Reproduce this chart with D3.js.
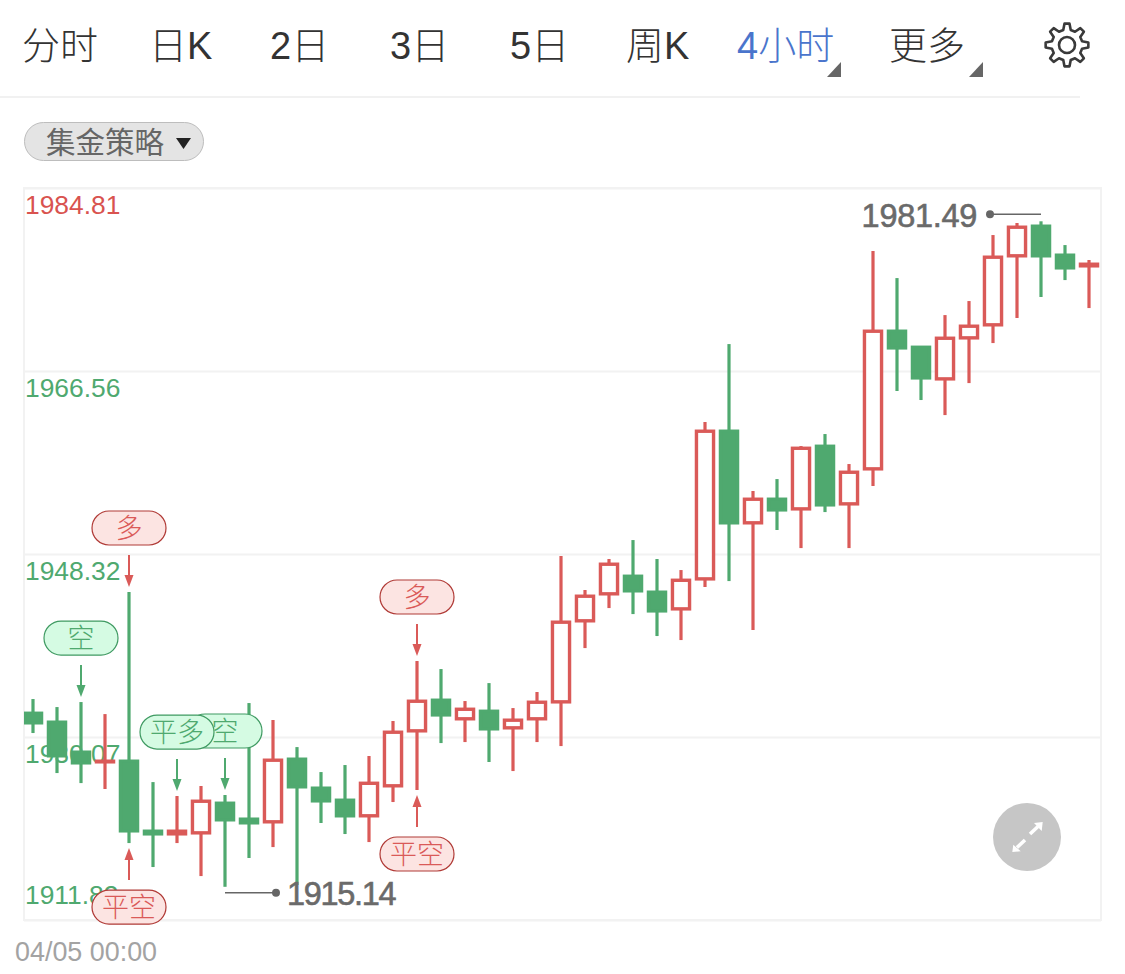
<!DOCTYPE html>
<html><head><meta charset="utf-8">
<script src="https://cdn.jsdelivr.net/npm/d3@7/dist/d3.min.js"></script>
<style>html,body{margin:0;padding:0;background:#fff;overflow:hidden}
svg{display:block}text{font-family:"Liberation Sans","Noto Sans CJK SC",sans-serif}</style>
</head><body><svg id="c" width="1125" height="974"></svg>
<script>
const tabs = ["分时","日K","2日","3日","5日","周K","4小时","更多"];
const tabX = [22,149,270,390,510,626,737,889];
const activeTab = "4小时";
const strategy = "集金策略";
const priceTicks = [1984.81,1966.56,1948.32,1930.07,1911.83];
const firstDate = "04/05 00:00";
const opens  = [1932.56,1931.67,1928.68,1927.48,1927.78,1920.80,1920.30,1920.40,1923.59,1922.00,1921.50,1927.98,1925.09,1923.89,1922.10,1925.09,1930.57,1933.86,1931.77,1932.76,1930.87,1931.77,1933.46,1941.54,1944.23,1946.22,1944.63,1942.73,1945.72,1960.68,1951.31,1953.90,1952.70,1959.18,1953.20,1956.69,1970.65,1969.05,1965.66,1969.75,1971.05,1977.93,1981.12,1978.23,1976.93];
const highs  = [1933.86,1933.06,1933.56,1932.36,1944.53,1925.58,1924.19,1925.19,1924.29,1933.46,1931.77,1929.07,1926.58,1927.28,1928.18,1931.67,1937.65,1936.85,1933.66,1935.45,1932.96,1934.56,1948.12,1944.73,1947.82,1949.71,1947.82,1946.72,1961.48,1969.25,1954.60,1955.79,1959.08,1960.28,1957.29,1978.53,1975.83,1969.05,1972.14,1973.54,1980.12,1981.32,1981.49,1979.12,1977.63];
const lows   = [1930.47,1926.48,1925.48,1924.89,1919.50,1917.11,1919.50,1916.21,1915.14,1918.01,1919.10,1915.32,1921.50,1920.40,1919.60,1923.59,1924.79,1929.47,1929.57,1927.58,1926.68,1929.57,1929.17,1938.94,1942.93,1942.33,1940.14,1939.74,1945.03,1945.62,1940.74,1950.71,1948.91,1952.50,1948.91,1955.10,1964.57,1963.67,1962.17,1965.36,1969.35,1971.85,1973.94,1975.63,1972.84];
const closes = [1931.37,1928.08,1927.38,1927.78,1920.60,1920.30,1920.80,1923.79,1921.70,1921.40,1927.88,1924.99,1923.59,1922.10,1925.58,1930.67,1933.76,1932.16,1932.96,1930.77,1931.87,1933.66,1941.64,1944.23,1947.42,1944.53,1942.53,1945.82,1960.68,1951.31,1953.90,1952.60,1958.98,1953.10,1956.59,1970.65,1968.75,1965.76,1969.95,1971.15,1978.03,1981.02,1977.93,1976.73,1977.33];
const signalLabels = ["空","平多","空","多","平空","多","平空"];
const signalIndex  = [2,6,8,4,4,16,16];
const signalSide   = ["top","top","top","top","bottom","top","bottom"];
const signalTone   = ["green","green","green","red","red","red","red"];

const RED="#da5a58", GREEN="#4fa96f";
const tone={red:{c:RED,fill:"#fce4e2",edge:"#b03a36"},green:{c:GREEN,fill:"#d5fbe3",edge:"#3f9a62"}};
const svg=d3.select("#c");
const L=24,R=1101,T=188,B=920;
const idx=opens.map((_,i)=>i);
const x=d3.scaleBand().domain(idx).range([21,21+24*45]);
const y=d3.scaleLinear().domain([priceTicks[4],priceTicks[0]]).range([B,T]);
const cx=i=>x(i)+x.bandwidth()/2;

// header
svg.selectAll(".tab").data(tabs).join("text").attr("class","tab")
 .attr("x",(d,i)=>tabX[i]).attr("y",59).attr("font-size",38).attr("font-weight",300)
 .attr("fill",d=>d===activeTab?"#4a75cc":"#333").text(d=>d);
svg.selectAll(".tri").data([[841,62],[983,62]]).join("path").attr("class","tri")
 .attr("d",d=>`M${d[0]} ${d[1]}L${d[0]} ${d[1]+15}L${d[0]-14} ${d[1]+15}Z`).attr("fill","#666");
// gear
const gear=svg.append("g").attr("transform","translate(1067,45)");
const gp=[];const teeth=8;
for(let k=0;k<teeth;k++){
  const a=k*2*Math.PI/teeth-Math.PI/2;
  const st=Math.PI/teeth;
  [[-0.62,15.5],[-0.3,21.5],[0.3,21.5],[0.62,15.5]].forEach(p=>{
    const an=a+p[0]*st; gp.push([p[1]*Math.cos(an),p[1]*Math.sin(an)]);
  });
}
gear.append("path").attr("d",d3.line().curve(d3.curveLinearClosed)(gp)).attr("fill","none")
 .attr("stroke","#3a3a3a").attr("stroke-width",2.6).attr("stroke-linejoin","round");
gear.append("circle").attr("r",8).attr("fill","none").attr("stroke","#3a3a3a").attr("stroke-width",2.6);
svg.append("rect").attr("x",0).attr("y",96).attr("width",1080).attr("height",2).attr("fill","#f1f1f1");
svg.append("rect").attr("x",24.5).attr("y",122.5).attr("width",179).attr("height",38).attr("rx",19)
 .attr("fill","#e4e4e4").attr("stroke","#bdbdbd");
svg.append("text").attr("x",46).attr("y",153).attr("font-size",29.5).attr("fill","#666").text(strategy);
svg.append("path").attr("d","M176 138H191L183.5 149Z").attr("fill","#222");

// frame + grid
svg.append("rect").attr("x",L).attr("y",T).attr("width",R-L).attr("height",B-T)
 .attr("fill","none").attr("stroke","#f2f2f2").attr("stroke-width",2);
const ax=svg.append("g").attr("transform",`translate(${L},0)`)
 .call(d3.axisRight(y).tickValues(priceTicks).tickSize(R-L).tickFormat(d3.format(".2f")));
ax.select(".domain").remove();
ax.selectAll("line").attr("stroke","#f2f2f2").attr("stroke-width",2);
ax.selectAll("text").attr("x",1).attr("text-anchor","start").attr("dy",0)
 .attr("y",(d,i)=>i===4?-17:25).attr("font-size",26.4)
 .attr("font-family",'"Liberation Sans",sans-serif')
 .attr("fill",(d,i)=>i===0?"#d9534f":GREEN);

// candles
svg.append("clipPath").attr("id","plot").append("rect").attr("x",L).attr("y",T).attr("width",R-L).attr("height",B-T);
const W=20.5,SW=3.4;
const g=svg.append("g").attr("clip-path","url(#plot)");
const candle=g.selectAll("g").data(idx).join("g");
candle.append("line").attr("x1",cx).attr("x2",cx).attr("y1",i=>y(highs[i])).attr("y2",i=>y(lows[i]))
 .attr("stroke",i=>closes[i]>=opens[i]?RED:GREEN).attr("stroke-width",3.2);
candle.append("rect")
 .attr("x",i=>cx(i)-W/2+SW/2).attr("width",W-SW)
 .attr("y",i=>y(Math.max(opens[i],closes[i]))+SW/2-0.5)
 .attr("height",i=>Math.max(0.5,Math.abs(y(opens[i])-y(closes[i]))-SW+1))
 .attr("fill",i=>closes[i]>=opens[i]?"#fff":GREEN)
 .attr("stroke",i=>closes[i]>=opens[i]?RED:GREEN).attr("stroke-width",SW);

// extreme markers
const hiI=highs.indexOf(d3.max(highs)), loI=lows.indexOf(d3.min(lows));
const hiY=y(highs[hiI])-7, loY=y(lows[loI])+6;
svg.append("line").attr("x1",cx(hiI)).attr("x2",cx(hiI)-51).attr("y1",hiY).attr("y2",hiY).attr("stroke","#666").attr("stroke-width",1.5);
svg.append("circle").attr("cx",cx(hiI)-51).attr("cy",hiY).attr("r",4).attr("fill","#666");
svg.append("text").attr("x",cx(hiI)-64).attr("y",hiY+13).attr("text-anchor","end").attr("font-size",32.5).attr("letter-spacing",-0.3).attr("fill","#6a6a6a").attr("stroke","#6a6a6a").attr("stroke-width",0.6).text(d3.format(".2f")(highs[hiI]));
svg.append("line").attr("x1",cx(loI)).attr("x2",cx(loI)+51).attr("y1",loY).attr("y2",loY).attr("stroke","#666").attr("stroke-width",1.5);
svg.append("circle").attr("cx",cx(loI)+51).attr("cy",loY).attr("r",4).attr("fill","#666");
svg.append("text").attr("x",cx(loI)+62).attr("y",loY+12).attr("font-size",32.5).attr("letter-spacing",-1.3).attr("fill","#6a6a6a").attr("stroke","#6a6a6a").attr("stroke-width",0.6).text(d3.format(".2f")(lows[loI]));

// signals: listed order keeps overlap order (空 under 平多)
const order=[2,1,0,3,4,5,6];
const PW=74,PH=34,GAP=5,AL=32,BG=10;
order.forEach(s=>{
  const i=signalIndex[s],t=tone[signalTone[s]],X=cx(i);
  const top=signalSide[s]==="top";
  const tip=top?y(highs[i])-GAP:y(lows[i])+GAP;
  const dir=top?-1:1;
  const tail=tip+dir*AL;
  const py=top?tail-BG-PH:tail+BG;
  const G=svg.append("g");
  G.append("line").attr("x1",X).attr("x2",X).attr("y1",tail).attr("y2",tip+dir*6).attr("stroke",t.c).attr("stroke-width",2);
  G.append("path").attr("d",`M${X} ${tip}L${X-4.5} ${tip+dir*12}L${X+4.5} ${tip+dir*12}Z`).attr("fill",t.c);
  G.append("rect").attr("x",X-PW/2).attr("y",py).attr("width",PW).attr("height",PH).attr("rx",17)
   .attr("fill",t.fill).attr("stroke",t.edge).attr("stroke-width",1.2);
  G.append("text").attr("x",X).attr("y",py+PH/2+9.5).attr("text-anchor","middle").attr("font-size",27)
   .attr("font-weight",300).attr("fill",t.c).text(signalLabels[s]);
});

// date label
svg.append("text").attr("x",15).attr("y",961).attr("font-size",26.9).attr("fill","#a3a3a3").text(firstDate);

// expand button
const b=svg.append("g").attr("transform","translate(1027,837)");
b.append("circle").attr("r",34).attr("fill","#c6c6c6");
b.append("path").attr("fill","#fff").attr("d","M15.7 -15L7 -14L14.7 -6Z M-14.7 15L-13.7 7.7L-6.3 14.3Z");
b.append("path").attr("fill","none").attr("stroke","#fff").attr("stroke-width",3.6)
 .attr("d","M3 -3L11 -10.5 M-2 3L-10 10.5");
</script></body></html>
